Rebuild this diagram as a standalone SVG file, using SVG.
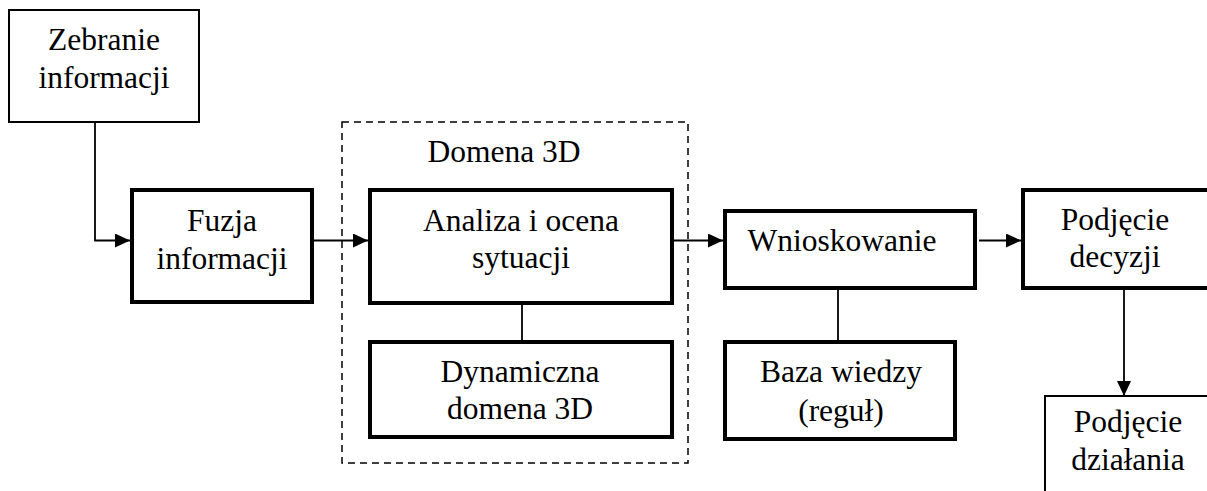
<svg xmlns="http://www.w3.org/2000/svg" width="1207" height="491" viewBox="0 0 1207 491">
  <style>
    .thin { fill: #fff; stroke: #000; stroke-width: 2; }
    .thick { fill: #fff; stroke: #000; stroke-width: 4; }
    .dash { fill: none; stroke: #000; stroke-width: 1.5; stroke-dasharray: 7 5; }
    .line { fill: none; stroke: #000; stroke-width: 1.8; }
    text { font-family: "Liberation Serif", "DejaVu Serif", "Times New Roman", serif; font-size: 31.5px; fill: #000; text-anchor: middle; }
  </style>
  <defs>
    <marker id="arrow" viewBox="0 0 15 14" refX="15" refY="7" markerWidth="15" markerHeight="14" markerUnits="userSpaceOnUse" orient="auto">
      <path d="M0,0 L15,7 L0,14 Z" fill="#000"/>
    </marker>
  </defs>

  <rect fill="#fff" x="0" y="0" width="1207" height="491"/>

  <!-- 3D domain frame -->
  <g id="domena-3d">
    <rect class="dash" x="342" y="122" width="346" height="341"/>
    <text x="504" y="162">Domena 3D</text>
  </g>

  <!-- connectors -->
  <g id="connectors">
    <polyline class="line" points="95,122 95,240.5 130,240.5" marker-end="url(#arrow)"/>
    <line class="line" x1="312" y1="240.5" x2="368" y2="240.5" marker-end="url(#arrow)"/>
    <line class="line" x1="672" y1="240.5" x2="723" y2="240.5" marker-end="url(#arrow)"/>
    <line class="line" x1="979" y1="240.5" x2="1021" y2="240.5" marker-end="url(#arrow)"/>
    <line class="line" x1="522" y1="303" x2="522" y2="342"/>
    <line class="line" x1="838" y1="288" x2="838" y2="342"/>
    <line class="line" x1="1124" y1="288" x2="1124" y2="396" marker-end="url(#arrow)"/>
  </g>

  <g id="zebranie">
    <rect class="thin" x="9" y="10" width="190" height="112"/>
    <text x="104" y="50">Zebranie</text>
    <text x="104" y="88">informacji</text>
  </g>

  <g id="fuzja">
    <rect class="thick" x="132" y="190" width="180" height="112"/>
    <text x="222" y="231">Fuzja</text>
    <text x="222" y="269">informacji</text>
  </g>

  <g id="analiza">
    <rect class="thick" x="370" y="190" width="302" height="113"/>
    <text x="521" y="231">Analiza i ocena</text>
    <text x="521" y="268">sytuacji</text>
  </g>

  <g id="dynamiczna">
    <rect class="thick" x="370" y="342" width="302" height="95"/>
    <text x="520" y="382">Dynamiczna</text>
    <text x="520" y="419">domena 3D</text>
  </g>

  <g id="wnioskowanie">
    <rect class="thick" x="725" y="211" width="250" height="77"/>
    <text x="842" y="251">Wnioskowanie</text>
  </g>

  <g id="baza-wiedzy">
    <rect class="thick" x="725" y="342" width="230" height="97"/>
    <text x="841" y="382">Baza wiedzy</text>
    <text x="841" y="421">(reguł)</text>
  </g>

  <g id="decyzja">
    <rect class="thick" x="1023" y="190" width="200" height="98"/>
    <text x="1115" y="230">Podjęcie</text>
    <text x="1115" y="267">decyzji</text>
  </g>

  <g id="dzialanie">
    <rect class="thin" x="1045" y="396" width="180" height="110"/>
    <text x="1128" y="432">Podjęcie</text>
    <text x="1128" y="470">działania</text>
  </g>
</svg>
